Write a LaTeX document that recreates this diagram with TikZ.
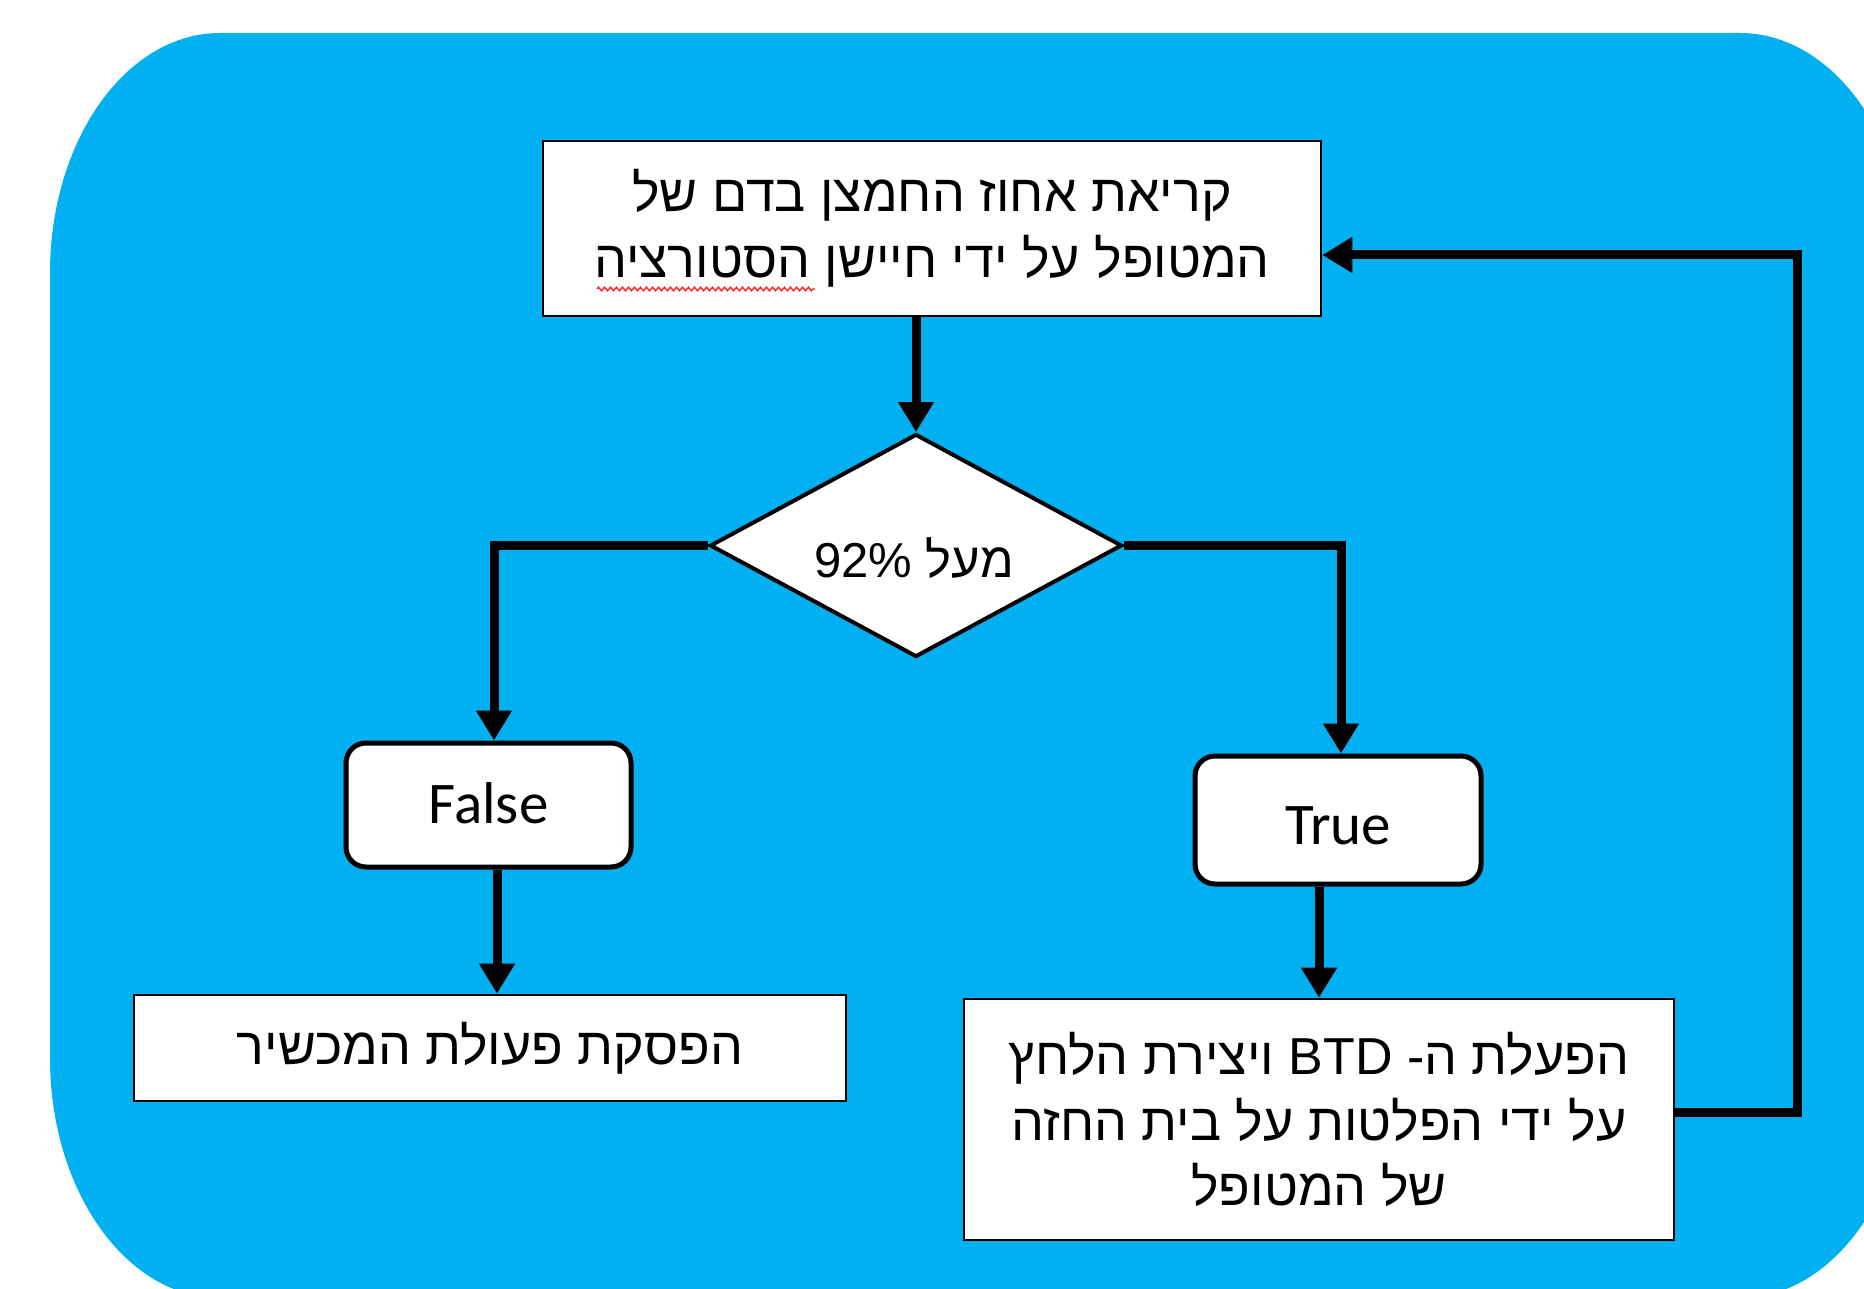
\documentclass[tikz,border=0pt]{standalone}
\usepackage{fontspec}
\setmainfont{Liberation Sans}
\newfontfamily\heb[Script=Hebrew]{Liberation Sans}
\newfontfamily\eng{Carlito}
\TeXXeTstate=1
\usetikzlibrary{shapes.geometric,arrows.meta,decorations.pathmorphing}
\definecolor{bgblue}{HTML}{00B0F0}
\begin{document}
\begin{tikzpicture}[x=0.5pt,y=-0.5pt,
  box/.style={draw=black, line width=1.3pt, fill=white, rectangle, inner sep=0pt,
    align=center, font=\heb\fontsize{26}{32.8}\selectfont},
  rbox/.style={draw=black, line width=2.5pt, fill=white, rectangle, rounded corners=10pt,
    inner sep=0pt, font=\eng\fontsize{29.5}{32}\selectfont},
  decision/.style={draw=black, line width=2pt, fill=white, diamond, inner sep=0pt},
  dtext/.style={inner sep=0pt, font=\heb\fontsize{24.5}{30}\selectfont},
  conn/.style={draw=black, line width=4.5pt, line join=miter,
    -{Triangle[length=15pt,width=17pt]}}
]
\useasboundingbox (0,0) rectangle (1864,1289);
\begin{scope}
  \clip (0,0) rectangle (1864,1289);
  \fill[bgblue] (50,1058) -- (50,273)
    .. controls (50,140.5) and (126.1,33) .. (220,33)
    -- (1740,33)
    .. controls (1833.9,33) and (1910,140.5) .. (1910,273)
    -- (1910,1058)
    .. controls (1910,1190.5) and (1833.9,1298) .. (1740,1298)
    -- (220,1298)
    .. controls (126.1,1298) and (50,1190.5) .. (50,1058) -- cycle;
\end{scope}

\node[box, minimum width=389pt, minimum height=87.5pt] (top) at (932,228.5)
  {\beginR קריאת אחוז החמצן בדם של\endR\\ \beginR המטופל על ידי חיישן הסטורציה\endR};
\draw[red!85!white, line width=0.7pt, decorate,
  decoration={zigzag, segment length=3pt, amplitude=0.9pt}] (597,289) -- (815,289);

\node[decision, minimum width=206pt, minimum height=111.5pt] (dia) at (916,545.5) {};
\node[dtext] (diatext) at (914,558) {\beginR מעל \beginL92\%\endL\endR};

\node[rbox, minimum width=142.5pt, minimum height=62pt, text height=18pt, text depth=0pt]
  (false) at (488.5,805) {False};
\node[rbox, minimum width=143pt, minimum height=64pt, text height=24pt, text depth=0pt]
  (true) at (1338,820) {True};

\node[box, minimum width=356pt, minimum height=53pt] (bl) at (490,1048)
  {\beginR הפסקת פעולת המכשיר\endR};
\node[box, minimum width=355pt, minimum height=120.5pt] (br) at (1319,1119.5)
  {\beginR הפעלת ה- \beginL BTD\endL{} ויצירת הלחץ\endR\\
   \beginR על ידי הפלטות על בית החזה\endR\\
   \beginR של המטופל\endR};

\coordinate (loopA) at (1797,1112);
\coordinate (loopB) at (1797,255);

\draw[conn] (top.south -| dia.north) -- (dia.north);
\draw[conn] (dia.west) -| ([xshift=2.75pt]false.north);
\draw[conn] (dia.east) -| ([xshift=1.5pt]true.north);
\draw[conn] ([xshift=4.25pt]false.south) -- ([xshift=4.25pt]false.south |- bl.north);
\draw[conn] (true.south -| br.north) -- (br.north);
\draw[conn] (br.east |- loopA) -- (loopA) -- (loopB) -- (top.east |- loopB);
\end{tikzpicture}
\end{document}
